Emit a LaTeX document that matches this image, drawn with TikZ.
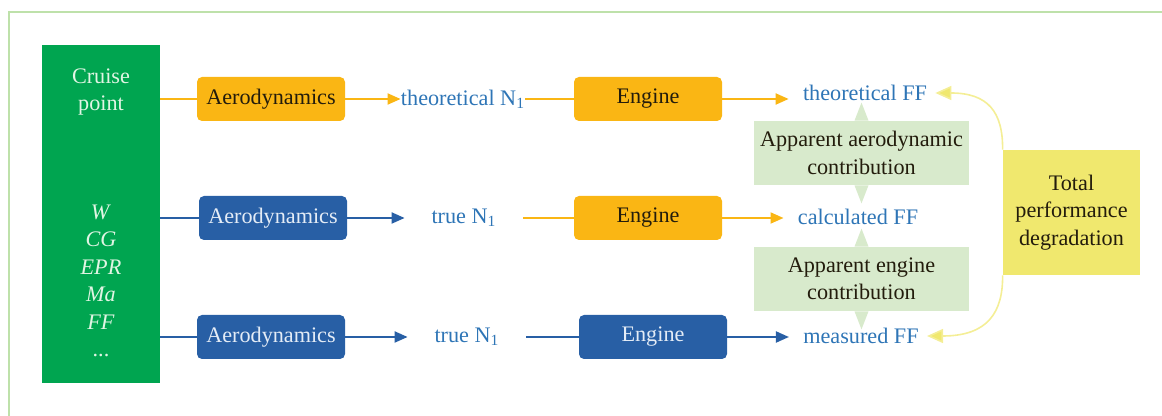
\documentclass[tikz,border=0pt]{standalone}
\usepackage{fontspec}
\setmainfont{Liberation Serif}
\usetikzlibrary{arrows.meta}

\definecolor{cpgreen}{RGB}{0,165,80}
\definecolor{cptext}{RGB}{225,245,228}
\definecolor{aorange}{RGB}{250,182,20}
\definecolor{ablue}{RGB}{40,95,165}
\definecolor{bluetext}{RGB}{228,236,246}
\definecolor{lblue}{RGB}{46,117,182}
\definecolor{lgreen}{RGB}{216,234,204}
\definecolor{tyellow}{RGB}{240,232,110}
\definecolor{cyellow}{RGB}{244,238,150}
\definecolor{frame}{RGB}{190,225,170}
\definecolor{dtext}{RGB}{35,28,12}

\begin{document}
\begin{tikzpicture}[x=0.5pt,y=-0.5pt,
  every node/.style={font=\fontsize{11.1}{13.75}\selectfont},
  inputbox/.style={fill=cpgreen, minimum width=59pt, minimum height=169pt, inner sep=0},
  inputtext/.style={text=cptext, align=center, inner sep=0},
  obox/.style={fill=aorange, rounded corners=2.5pt, minimum width=74pt, minimum height=22pt, text=dtext, inner sep=0},
  bbox/.style={fill=ablue, rounded corners=2.5pt, minimum width=74pt, minimum height=22pt, text=bluetext, inner sep=0},
  nlabel/.style={text=lblue, minimum width=59pt, inner xsep=0, inner ysep=2pt},
  fflabel/.style={text=lblue, inner xsep=7pt, inner ysep=2pt},
  contrib/.style={fill=lgreen, minimum width=107.5pt, minimum height=32pt, align=center, text=dtext, inner sep=0},
  totbox/.style={fill=tyellow, minimum width=68.5pt, minimum height=62.5pt, align=center, text=dtext, inner sep=0},
  oline/.style={draw=aorange, line width=1pt},
  bline/.style={draw=ablue, line width=1pt},
  oarr/.style={oline, -{Triangle[length=6.5pt,width=5.5pt]}},
  barr/.style={bline, -{Triangle[length=6.5pt,width=5.5pt]}},
  yarr/.style={draw=cyellow, line width=0.8pt, -{Triangle[length=8pt,width=7pt,fill=tyellow]}},
]
\useasboundingbox (0,0) rectangle (1162,416);

% outer frame (top and left edges)
\draw[frame, line width=1.2pt] (9,416) -- (9,12) -- (1162,12);

% input column
\node[inputbox] (cp) at (101,214) {};
\node[inputtext] (cruise) at (101,92) {Cruise\\point};
\node[inputtext] (vars) at (101,281) {\textit{W}\\\textit{CG}\\\textit{EPR}\\\textit{Ma}\\\textit{FF}\\...};

% contribution boxes with their pointers
\node[contrib] (ac) at (861.5,153) {Apparent aerodynamic\\contribution};
\node[contrib] (ec) at (861.5,279) {Apparent engine\\contribution};
\fill[lgreen] (ac.north) ++(-7,0) -- ++(14,0) -- ++(-7,-18) -- cycle;
\fill[lgreen] (ac.south) ++(-7,0) -- ++(14,0) -- ++(-7,18) -- cycle;
\fill[lgreen] (ec.north) ++(-7,0) -- ++(14,0) -- ++(-7,-18) -- cycle;
\fill[lgreen] (ec.south) ++(-7,0) -- ++(14,0) -- ++(-7,18) -- cycle;

% row 1: theoretical
\node[obox] (a1) at (271,99) {Aerodynamics};
\node[nlabel] (n1) at (463,99) {theoretical N\textsubscript{1}};
\node[obox] (e1) at (648,99) {Engine};
\node[fflabel] (f1) at (865,93) {theoretical FF};

% row 2: calculated
\node[bbox] (a2) at (273,218) {Aerodynamics};
\node[nlabel] (n2) at (464,218) {true N\textsubscript{1}};
\node[obox] (e2) at (648,218) {Engine};
\node[fflabel] (f2) at (858,217) {calculated FF};

% row 3: measured
\node[bbox] (a3) at (271,337) {Aerodynamics};
\node[nlabel] (n3) at (467,337) {true N\textsubscript{1}};
\node[bbox] (e3) at (653,337) {Engine};
\node[fflabel] (f3) at (861,336) {measured FF};

% total degradation
\node[totbox] (tot) at (1071.5,212.5) {Total\\performance\\degradation};

% connectors
\draw[oline] (a1 -| cp.east) -- (a1.west);
\draw[oarr] (a1.east) -- (n1.west);
\draw[oline] (n1.east) -- (e1.west);
\draw[oarr] (e1.east) -- (e1.east -| f1.west);

\draw[bline] (a2 -| cp.east) -- (a2.west);
\draw[barr] (a2.east) -- (n2.west);
\draw[oline] (n2.east) -- (e2.west);
\draw[oarr] (e2.east) -- (e2.east -| f2.west);

\draw[bline] (a3 -| cp.east) -- (a3.west);
\draw[barr] (a3.east) -- (n3.west);
\draw[bline] (n3.east) -- (e3.west);
\draw[barr] (e3.east) -- (e3.east -| f3.west);

\draw[yarr] (tot.north west) .. controls (1003,112) and (988,93) .. ([xshift=-3pt]f1.east);
\draw[yarr] (tot.south west) .. controls (1003,312) and (988,336) .. ([xshift=-3pt]f3.east);
\end{tikzpicture}
\end{document}
